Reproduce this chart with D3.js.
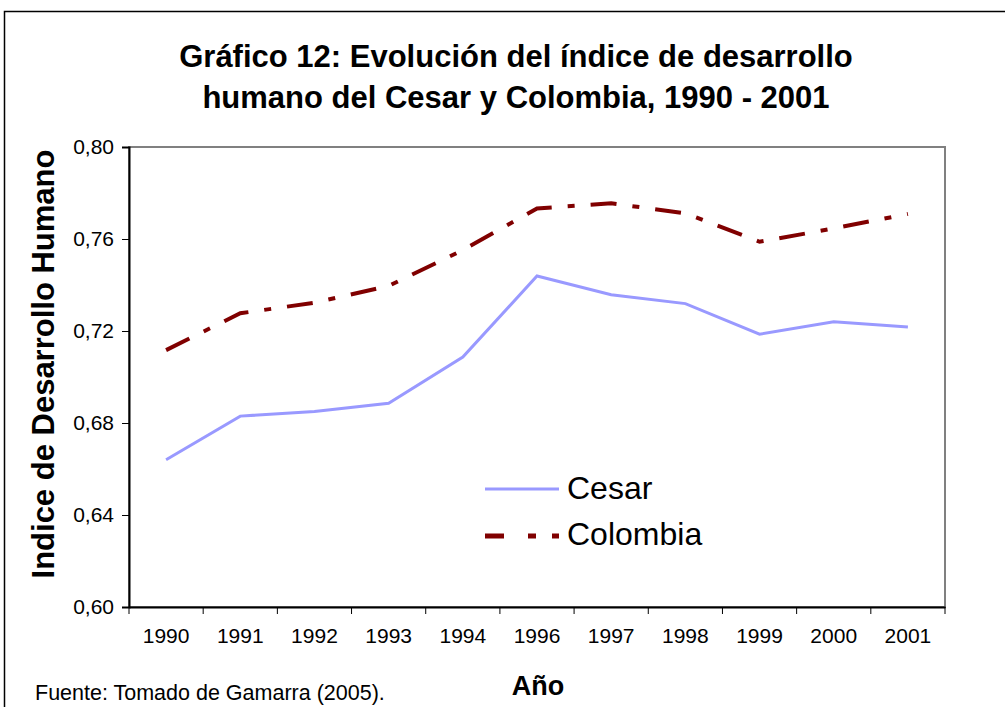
<!DOCTYPE html>
<html>
<head>
<meta charset="utf-8">
<script src="https://cdn.jsdelivr.net/npm/d3@7"></script>
<style>
  body { margin: 0; background: #fff; }
  text { font-family: "Liberation Sans", Arial, sans-serif; }
</style>
</head>
<body>
<div id="chart"></div>
<script>
// data
var years = ["1990", "1991", "1992", "1993", "1994", "1996", "1997", "1998", "1999", "2000", "2001"];
var cesar = [0.664, 0.683, 0.685, 0.6886, 0.7087, 0.7439, 0.7358, 0.7319, 0.7186, 0.724, 0.7217];
var colombia = [0.7117, 0.7277, 0.7323, 0.7396, 0.7552, 0.7733, 0.7755, 0.7712, 0.7588, 0.7646, 0.7709];
var yTicks = [0.60, 0.64, 0.68, 0.72, 0.76, 0.80];

var W = 1005, H = 707;
var margin = {top: 147, right: 60, bottom: 100, left: 129},
    width = 945 - margin.left,
    height = 607 - margin.top;

var svg = d3.select("#chart")
  .append("svg")
    .attr("width", W)
    .attr("height", H);

// chart area border
svg.append("rect")
    .attr("x", 4.5).attr("y", 11.5)
    .attr("width", W + 10).attr("height", H + 10)
    .attr("fill", "white")
    .attr("stroke", "black")
    .attr("stroke-width", 1.5);

// title
var title = svg.append("text")
    .attr("text-anchor", "middle")
    .attr("font-weight", "bold")
    .attr("font-size", 31)
    .attr("x", 516);
title.append("tspan").attr("x", 516).attr("y", 67).text("Gráfico 12: Evolución del índice de desarrollo");
title.append("tspan").attr("x", 516).attr("y", 108).text("humano del Cesar y Colombia, 1990 - 2001");

var g = svg.append("g")
    .attr("transform", "translate(" + margin.left + "," + margin.top + ")");

var x = d3.scaleBand()
    .domain(years)
    .range([0, width]);

var y = d3.scaleLinear()
    .domain([0.60, 0.80])
    .range([height, 0]);

// plot area frame (top & right grey)
g.append("rect")
    .attr("x", 0).attr("y", 0)
    .attr("width", width).attr("height", height)
    .attr("fill", "none")
    .attr("stroke", "#808080")
    .attr("stroke-width", 2);

// Y axis
var yAxis = g.append("g")
    .call(d3.axisLeft(y).tickValues(yTicks).tickSize(7).tickPadding(8)
      .tickFormat(function(d) { return d3.format(".2f")(d).replace(".", ","); }));
yAxis.selectAll("text").attr("font-size", 21).attr("fill", "black")
    .attr("font-family", "Liberation Sans, Arial, sans-serif");

// X axis, ticks on band boundaries
var xAxis = g.append("g")
    .attr("transform", "translate(0," + height + ")")
    .call(d3.axisBottom(x).tickSize(0).tickPadding(21));
xAxis.selectAll("text").attr("font-size", 21).attr("fill", "black")
    .attr("font-family", "Liberation Sans, Arial, sans-serif");
xAxis.selectAll(".bound")
    .data(d3.range(years.length + 1))
    .enter().append("line")
      .attr("x1", function(i) { return i * x.step(); })
      .attr("x2", function(i) { return i * x.step(); })
      .attr("y1", 0).attr("y2", 7)
      .attr("stroke", "black");

g.selectAll(".domain").attr("stroke", "black").attr("stroke-width", 2);
g.selectAll(".tick line").attr("stroke", "black");

// lines
var line = function(vals) {
  return d3.line()
    .x(function(d, i) { return x(years[i]) + x.bandwidth() / 2; })
    .y(function(d) { return y(d); })(vals);
};

g.append("path")
    .attr("d", line(cesar))
    .attr("fill", "none")
    .attr("stroke", "#9999FF")
    .attr("stroke-width", 3);

g.append("path")
    .attr("d", line(colombia))
    .attr("fill", "none")
    .attr("stroke", "#800000")
    .attr("stroke-width", 4)
    .attr("stroke-dasharray", "26,16,7,16");

// legend
var legend = svg.append("g");
legend.append("line")
    .attr("x1", 485).attr("x2", 559).attr("y1", 489).attr("y2", 489)
    .attr("stroke", "#9999FF").attr("stroke-width", 3);
legend.append("line")
    .attr("x1", 485).attr("x2", 559).attr("y1", 536).attr("y2", 536)
    .attr("stroke", "#800000").attr("stroke-width", 5)
    .attr("stroke-dasharray", "19,24,8,16,7");
legend.append("text").attr("x", 567).attr("y", 499).attr("font-size", 32).text("Cesar");
legend.append("text").attr("x", 567).attr("y", 545).attr("font-size", 32).text("Colombia");

// axis titles
svg.append("text")
    .attr("text-anchor", "middle")
    .attr("font-weight", "bold")
    .attr("font-size", 31)
    .attr("transform", "translate(54,364) rotate(-90)")
    .text("Indice de Desarrollo Humano");

svg.append("text")
    .attr("text-anchor", "middle")
    .attr("font-weight", "bold")
    .attr("font-size", 27)
    .attr("x", 538).attr("y", 695)
    .text("Año");

svg.append("text")
    .attr("font-size", 21.5)
    .attr("x", 35).attr("y", 700)
    .text("Fuente: Tomado de Gamarra (2005).");
</script>
</body>
</html>
